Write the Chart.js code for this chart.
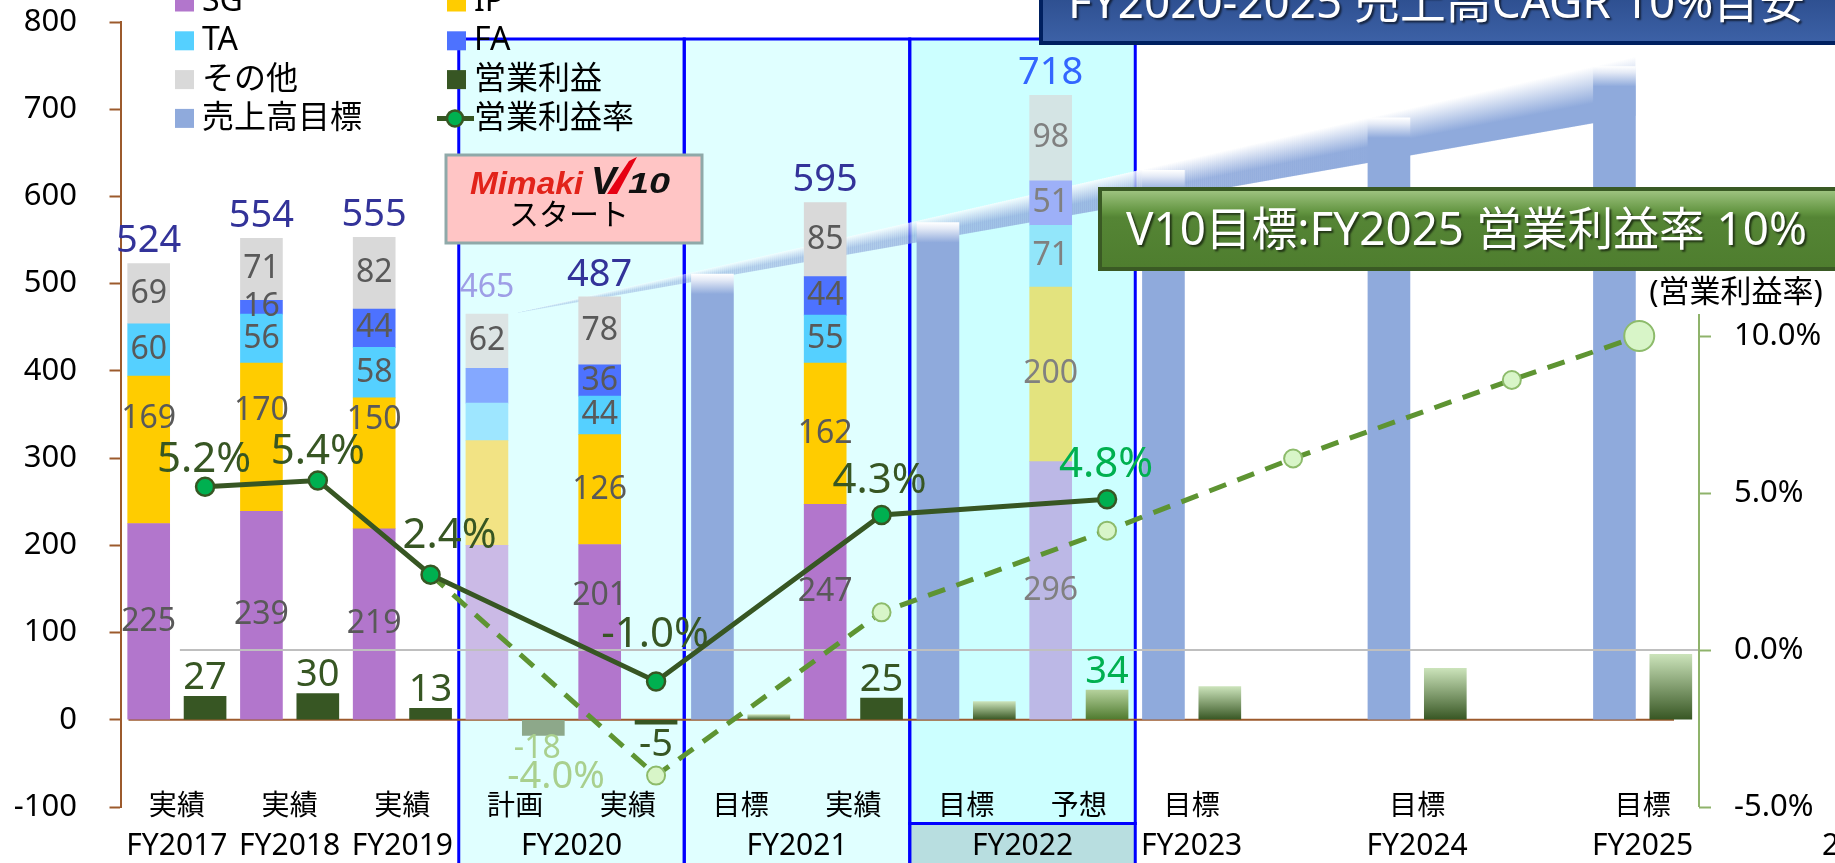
<!DOCTYPE html>
<html>
<head>
<meta charset="utf-8">
<script src="https://cdn.jsdelivr.net/npm/chart.js"></script>
<style>
body { margin: 0; background: #fff; }
</style>
</head>
<body>
<canvas id="chart" width="1835" height="863"></canvas>
<script>
var categories = ['実績', '実績', '実績', '計画', '実績', '目標', '実績', '目標', '予想', '目標', '', '目標', '', '目標'];
var kinds = ['act', 'act', 'act', 'plan', 'act', 'target', 'act', 'target', 'fcst', 'target', '', 'target', '', 'target'];
var fiscalYears = ['FY2017', 'FY2018', 'FY2019', 'FY2020', 'FY2021', 'FY2022', 'FY2023', 'FY2024', 'FY2025'];
var yearFrom = [0, 1, 2, 3, 5, 7, 9, 11, 13];
var yearTo = [0, 1, 2, 4, 6, 8, 9, 11, 13];

var sg = [225, 239, 219, 200, 201, null, 247, null, 296, null, null, null, null, null];
var ip = [169, 170, 150, 120, 126, null, 162, null, 200, null, null, null, null, null];
var ta = [60, 56, 58, 43, 44, null, 55, null, 71, null, null, null, null, null];
var fa = [null, 16, 44, 40, 36, null, 44, null, 51, null, null, null, null, null];
var others = [69, 71, 82, 62, 78, null, 85, null, 98, null, null, null, null, null];
var salesTarget = [null, null, null, null, null, 511, null, 570, null, 630, null, 690, null, 749];
var salesTotal = [524, 554, 555, 465, 487, null, 595, null, 718, null, null, null, null, null];
var opProfit = [27, 30, 13, -18, -5, 6, 25, 21, 34, 38, null, 59, null, 75];

// 営業利益率 (right axis); x = position on the category axis
var marginPos = [0.25, 1.25, 2.25, 4.25, 6.25, 8.25];
var opMargin = [5.2, 5.4, 2.4, -1.0, 4.3, 4.8];
var targetPos = [2.25, 4.25, 6.25, 8.25, 9.9, 11.84, 12.97];
var targetMargin = [2.4, -4.0, 1.2, 3.8, 6.1, 8.6, 10.0];

var leftTicks = [-100, 0, 100, 200, 300, 400, 500, 600, 700, 800];
var rightTicks = [-5, 0, 5, 10];

var FONT = '"Noto Sans", "Noto Sans CJK JP", sans-serif';

var segColors = {
	act: ['#B276CC', '#FFCC00', '#55D0FF', '#4D72FF', '#D9D9D9'],
	plan: ['#CBBAE6', '#F2E384', '#9EE6FF', '#84A8FF', '#DCE4E4'],
	fcst: ['#BCB8E6', '#E3E37E', '#92E6FA', '#9DB0F8', '#D4E4E4']
};

function pts(arr, shift) {
	return arr.map(function (v, i) { return { x: i + shift, y: v }; });
}

function segColor(k) {
	return function (c) {
		var kind = kinds[c.dataIndex];
		return (segColors[kind] || segColors.act)[k];
	};
}

function rawY(c) {
	return c.raw && c.raw.y != null ? c.raw.y : null;
}

function profitColor(c) {
	if (c.type !== 'data') return '#375623';
	var kind = kinds[c.dataIndex];
	if (kind === 'plan') return '#8DA88A';
	if (kind === 'act') return '#375623';
	var y = c.chart.scales.y, v = rawY(c);
	if (!c.chart.chartArea || !y || v === null) return '#375623';
	var g = c.chart.ctx.createLinearGradient(0, y.getPixelForValue(v), 0, y.getPixelForValue(0));
	if (kind === 'fcst') {
		g.addColorStop(0, '#B5D19C');
		g.addColorStop(1, '#4E7A2E');
	} else {
		g.addColorStop(0, '#CBE3BA');
		g.addColorStop(1, '#375623');
	}
	return g;
}

function targetColor(c) {
	var y = c.chart.scales.y, v = rawY(c);
	if (c.type !== 'data' || !c.chart.chartArea || !y || v === null) return '#8FAADC';
	var top = y.getPixelForValue(v);
	var g = c.chart.ctx.createLinearGradient(0, top, 0, top + 20);
	g.addColorStop(0, '#FFFFFF');
	g.addColorStop(0.3, '#E4EAF6');
	g.addColorStop(1, '#8FAADC');
	return g;
}

function put(ctx, s, x, y, px, color, align) {
	ctx.font = px + 'px ' + FONT;
	ctx.fillStyle = color;
	ctx.textAlign = align || 'center';
	ctx.textBaseline = 'middle';
	ctx.fillText(s, x, y);
}

// text squeezed or stretched to a given width
function fitText(ctx, s, x, y, w) {
	var m = ctx.measureText(s).width;
	ctx.save();
	ctx.translate(x, y);
	ctx.scale(w / m, 1);
	ctx.fillText(s, 0, 0);
	ctx.restore();
}

var segShift = { '1-0': -31, '1-1': -26, '1-2': -43, '0-4': -36, '0-6': -20 };
var marginLabelOffset = [[-1, -27], [0, -28], [19, -39], [-1, -46], [-2, -34], [-1, -34]];

var decor = {
	id: 'decor',
	beforeDatasetsDraw: function (chart) {
		var ctx = chart.ctx, xs = chart.scales.x, y = chart.scales.y;
		var cw = xs.getPixelForValue(1) - xs.getPixelForValue(0);
		ctx.save();
		var boxYears = [3, 4, 5];
		var fills = ['#E0FFFF', '#E0FFFF', '#CCFFFF'];
		var rects = boxYears.map(function (k, j) {
			var l = xs.getPixelForValue(yearFrom[k]) - cw / 2;
			var r = xs.getPixelForValue(yearTo[k]) + cw / 2;
			var b = j === 2 ? 823.5 : chart.height + 5;
			return [l, r, b];
		});
		rects.forEach(function (rc, j) {
			ctx.fillStyle = fills[j];
			ctx.fillRect(rc[0], 39, rc[1] - rc[0], rc[2] - 39);
			if (j === 2) {
				ctx.fillStyle = '#B8DEE0';
				ctx.fillRect(rc[0], rc[2], rc[1] - rc[0], chart.height - rc[2] + 5);
			}
		});
		ctx.strokeStyle = '#0000FF';
		ctx.lineWidth = 3;
		rects.forEach(function (rc, j) {
			ctx.strokeRect(rc[0], 39, rc[1] - rc[0], rc[2] - 39);
			if (j === 2) ctx.strokeRect(rc[0], rc[2], rc[1] - rc[0], chart.height - rc[2] + 5);
		});

		// ribbon linking the sales targets
		var half = chart.getDatasetMeta(5).data[13].width / 2;
		var x0 = xs.getPixelForValue(3 - 0.25) + half, y0 = y.getPixelForValue(salesTotal[3]);
		var x1 = xs.getPixelForValue(13 - 0.25) + half;
		var yt = y.getPixelForValue(salesTarget[13]) - 10, yb = yt + 59;
		for (var x = x0; x < x1; x += 2) {
			var t = (x - x0) / (x1 - x0);
			var top = y0 + (yt - y0) * t, bot = y0 + (yb - y0) * t;
			if (bot - top < 0.5) continue;
			var g = ctx.createLinearGradient(0, top, 0, bot);
			g.addColorStop(0, '#FFFFFF');
			g.addColorStop(0.65, '#8FAADC');
			g.addColorStop(1, '#8FAADC');
			ctx.globalAlpha = Math.min(1, 0.3 + 0.9 * t);
			ctx.fillStyle = g;
			ctx.fillRect(x, top, Math.min(2.6, x1 - x), bot - top);
		}
		ctx.globalAlpha = 1;

		// zero line
		var z = y.getPixelForValue(0);
		ctx.strokeStyle = '#9C5A2C';
		ctx.lineWidth = 2;
		ctx.beginPath();
		ctx.moveTo(xs.left + 8, z);
		ctx.lineTo(xs.right - 25, z);
		ctx.stroke();
		ctx.restore();
	},
	afterDatasetDraw: function (chart, args) {
		if (args.index !== 0) return;
		var ctx = chart.ctx, xs = chart.scales.x, y2 = chart.scales.y2;
		var z = y2.getPixelForValue(0);
		ctx.save();
		ctx.strokeStyle = '#BFBFBF';
		ctx.lineWidth = 2;
		ctx.beginPath();
		ctx.moveTo(xs.getPixelForValue(0) + 3, z);
		ctx.lineTo(xs.right, z);
		ctx.stroke();
		ctx.restore();
	},
	afterDatasetsDraw: function (chart) {
		var ctx = chart.ctx;
		ctx.save();
		[sg, ip, ta, fa, others].forEach(function (arr, k) {
			var meta = chart.getDatasetMeta(k);
			arr.forEach(function (v, i) {
				if (v === null) return;
				if (kinds[i] === 'plan' && k !== 4) return;
				var el = meta.data[i];
				var cy = (el.y + el.base) / 2 + (segShift[k + '-' + i] || 0);
				put(ctx, String(v), el.x, cy, 32, kinds[i] === 'fcst' ? '#808080' : '#595959');
			});
		});
		var topMeta = chart.getDatasetMeta(4);
		salesTotal.forEach(function (v, i) {
			if (v === null) return;
			var el = topMeta.data[i];
			var col = kinds[i] === 'plan' ? '#9E9EE6' : (kinds[i] === 'fcst' ? '#3366FF' : '#333399');
			put(ctx, String(v), el.x, el.y - (kinds[i] === 'plan' ? 26 : 22), kinds[i] === 'plan' ? 32 : 38, col);
		});
		var pMeta = chart.getDatasetMeta(6);
		opProfit.forEach(function (v, i) {
			if (v === null || kinds[i] === 'target' || !kinds[i]) return;
			var el = pMeta.data[i];
			var col = kinds[i] === 'plan' ? '#A9D08E' : (kinds[i] === 'fcst' ? '#00B050' : '#375623');
			if (v >= 0) put(ctx, String(v), el.x, el.y - 18, 38, col);
			else put(ctx, String(v), el.x - (kinds[i] === 'plan' ? 6 : 0), el.y + (kinds[i] === 'plan' ? 13 : 21), kinds[i] === 'plan' ? 32 : 38, col);
		});
		var lMeta = chart.getDatasetMeta(7);
		opMargin.forEach(function (v, j) {
			var el = lMeta.data[j], off = marginLabelOffset[j];
			put(ctx, v.toFixed(1) + '%', el.x + off[0], el.y + off[1], 42, j === opMargin.length - 1 ? '#00B050' : '#375623');
		});
		var dp = chart.getDatasetMeta(8).data[1];
		put(ctx, targetMargin[1].toFixed(1) + '%', dp.x - 100, dp.y + 2, 38, '#A9D08E');
		ctx.restore();
	},
	afterDraw: function (chart) {
		var ctx = chart.ctx, xs = chart.scales.x, y = chart.scales.y, y2 = chart.scales.y2;
		ctx.save();
		// axis labels
		leftTicks.forEach(function (v) {
			put(ctx, String(v), 77, y.getPixelForValue(v), 31, '#000', 'right');
		});
		rightTicks.forEach(function (v) {
			put(ctx, v.toFixed(1) + '%', 1734, y2.getPixelForValue(v), 31, '#000', 'left');
		});
		categories.forEach(function (c, i) {
			if (c) put(ctx, c, xs.getPixelForValue(i), 807, 28, '#000');
		});
		fiscalYears.forEach(function (f, k) {
			var cx = (xs.getPixelForValue(yearFrom[k]) + xs.getPixelForValue(yearTo[k])) / 2;
			put(ctx, f, cx, 846, 30, '#000');
		});
		// right axis line
		ctx.strokeStyle = '#8FB36B';
		ctx.lineWidth = 2;
		ctx.beginPath();
		ctx.moveTo(y2.left, y2.getPixelForValue(10.7));
		ctx.lineTo(y2.left, y2.getPixelForValue(-5));
		ctx.stroke();
		put(ctx, '(営業利益率)', 1736, 293, 31, '#000');
		put(ctx, '23', 1822, 846, 30, '#000', 'left');

		// legend
		var order = [0, 1, 2, 3, 4, 6, 5, 7];
		var legendColors = ['#B276CC', '#FFCC00', '#55D0FF', '#4D72FF', '#D9D9D9', '#8FAADC', '#375623'];
		order.forEach(function (d, n) {
			var col = n % 2, row = Math.floor(n / 2);
			var sx = col === 0 ? 175 : 447, tx = col === 0 ? 202 : 474;
			var cy = 2 + row * 38.8;
			if (d === 7) {
				ctx.strokeStyle = '#375623';
				ctx.lineWidth = 5;
				ctx.beginPath();
				ctx.moveTo(437, cy);
				ctx.lineTo(474, cy);
				ctx.stroke();
				ctx.beginPath();
				ctx.arc(455, cy, 8, 0, Math.PI * 2);
				ctx.fillStyle = '#00B050';
				ctx.fill();
				ctx.lineWidth = 2.5;
				ctx.stroke();
			} else {
				ctx.fillStyle = legendColors[d];
				ctx.fillRect(sx, cy - 9.5, 19, 19);
			}
			put(ctx, chart.data.datasets[d].label, tx, cy, 32, '#000', 'left');
		});

		// Mimaki V10 box
		ctx.fillStyle = '#FFC5C5';
		ctx.fillRect(446, 155, 256, 88);
		ctx.strokeStyle = '#8FA9A9';
		ctx.lineWidth = 3;
		ctx.strokeRect(446, 155, 256, 88);
		ctx.textBaseline = 'alphabetic';
		ctx.textAlign = 'left';
		ctx.font = 'italic bold 31px "Liberation Sans"';
		ctx.fillStyle = '#E2231A';
		fitText(ctx, 'Mimaki', 470, 194, 113);
		ctx.fillStyle = '#E60012';
		ctx.beginPath();
		ctx.moveTo(607, 194);
		ctx.lineTo(617, 194);
		ctx.lineTo(637, 157);
		ctx.lineTo(629, 161);
		ctx.closePath();
		ctx.fill();
		ctx.font = 'italic bold 38px "Liberation Sans"';
		ctx.fillStyle = '#111111';
		ctx.fillText('V', 591, 194);
		ctx.font = 'italic bold 30px "Liberation Sans"';
		fitText(ctx, '10', 628, 193, 42);
		ctx.font = '30px "Noto Sans CJK JP"';
		ctx.fillStyle = '#000';
		ctx.textAlign = 'center';
		ctx.textBaseline = 'middle';
		ctx.fillText('スタート', 569, 214);

		// CAGR title box
		var g = ctx.createLinearGradient(0, -20, 0, 44);
		g.addColorStop(0, '#284887');
		g.addColorStop(1, '#3D62A7');
		ctx.fillStyle = g;
		ctx.fillRect(1039, -20, 800, 64);
		ctx.strokeStyle = '#002060';
		ctx.lineWidth = 4;
		ctx.strokeRect(1041, -20, 800, 63);
		ctx.shadowColor = 'rgba(0,0,0,0.6)';
		ctx.shadowOffsetX = 2;
		ctx.shadowOffsetY = 2;
		ctx.shadowBlur = 2;
		ctx.font = '46px ' + FONT;
		ctx.fillStyle = '#FFFFFF';
		ctx.textAlign = 'left';
		ctx.textBaseline = 'alphabetic';
		fitText(ctx, 'FY2020-2025 売上高CAGR 10%目安', 1068, 18, 737);
		ctx.shadowColor = 'rgba(0,0,0,0)';

		// V10 target box
		var gg = ctx.createLinearGradient(0, 187, 0, 271);
		gg.addColorStop(0, '#A8CB8A');
		gg.addColorStop(0.3, '#629440');
		gg.addColorStop(0.36, '#558535');
		gg.addColorStop(1, '#4E7D2E');
		ctx.fillStyle = gg;
		ctx.fillRect(1098, 187, 740, 84);
		ctx.strokeStyle = '#3A5A24';
		ctx.lineWidth = 4;
		ctx.strokeRect(1100, 189, 740, 80);
		ctx.shadowColor = 'rgba(0,0,0,0.6)';
		ctx.shadowOffsetX = 2;
		ctx.shadowOffsetY = 2;
		ctx.shadowBlur = 2;
		ctx.font = '46px ' + FONT;
		ctx.fillStyle = '#FFFFFF';
		ctx.textBaseline = 'middle';
		fitText(ctx, 'V10目標:FY2025 営業利益率 10%', 1126, 232, 681);
		ctx.restore();
	}
};

var marginData = marginPos.map(function (p, j) { return { x: p, y: opMargin[j] }; });
var targetData = targetPos.map(function (p, j) { return { x: p, y: targetMargin[j] }; });

window.onload = function () {
	var ctx = document.getElementById('chart').getContext('2d');
	window.myChart = new Chart(ctx, {
		type: 'bar',
		data: {
			datasets: [
				{ label: 'SG', data: pts(sg, -0.25), stack: 's', order: 1, backgroundColor: segColor(0) },
				{ label: 'IP', data: pts(ip, -0.25), stack: 's', order: 1, backgroundColor: segColor(1) },
				{ label: 'TA', data: pts(ta, -0.25), stack: 's', order: 1, backgroundColor: segColor(2) },
				{ label: 'FA', data: pts(fa, -0.25), stack: 's', order: 1, backgroundColor: segColor(3) },
				{ label: 'その他', data: pts(others, -0.25), stack: 's', order: 1, backgroundColor: segColor(4) },
				{ label: '売上高目標', data: pts(salesTarget, -0.25), stack: 's', order: 1, backgroundColor: targetColor },
				{ label: '営業利益', data: pts(opProfit, 0.25), stack: 'p', order: 1, backgroundColor: profitColor },
				{
					type: 'line', label: '営業利益率', data: marginData, order: 0, yAxisID: 'y2',
					borderColor: '#375623', borderWidth: 5, tension: 0,
					pointRadius: 9, pointBackgroundColor: '#00B050',
					pointBorderColor: '#375623', pointBorderWidth: 2.5
				},
				{
					type: 'line', label: '営業利益率目標', data: targetData, order: 0, yAxisID: 'y2',
					borderColor: '#5E9432', borderWidth: 5, borderDash: [18, 12], tension: 0,
					pointRadius: function (c) {
						if (c.dataIndex === 0) return 0;
						return c.dataIndex === targetPos.length - 1 ? 15 : 9;
					},
					pointBackgroundColor: '#D8F5C8',
					pointBorderColor: '#8DBB6B', pointBorderWidth: 2
				}
			]
		},
		options: {
			responsive: false,
			animation: false,
			devicePixelRatio: 1,
			layout: { padding: { top: 22, bottom: 56, left: 0, right: 0 } },
			plugins: { legend: { display: false }, tooltip: { enabled: false } },
			datasets: { bar: { grouped: false, barThickness: 42 } },
			scales: {
				x: { type: 'linear', display: false, min: -0.5, max: 13.5, offset: false },
				y: {
					stacked: true, min: -100, max: 800,
					ticks: { stepSize: 100, display: false },
					grid: { drawOnChartArea: false, tickLength: 11, tickColor: '#9C5A2C', tickWidth: 2 },
					border: { color: '#9C5A2C', width: 2 },
					afterFit: function (s) { s.width = 120.5; }
				},
				y2: {
					position: 'right', min: -5, max: 20,
					ticks: { stepSize: 5, display: false },
					afterBuildTicks: function (s) {
						s.ticks = s.ticks.filter(function (t) { return t.value <= 10; });
					},
					grid: { drawOnChartArea: false, tickLength: 12, tickColor: '#8FB36B', tickWidth: 2 },
					border: { display: false },
					afterFit: function (s) { s.width = 136; }
				}
			}
		},
		plugins: [decor]
	});
};
</script>
</body>
</html>
